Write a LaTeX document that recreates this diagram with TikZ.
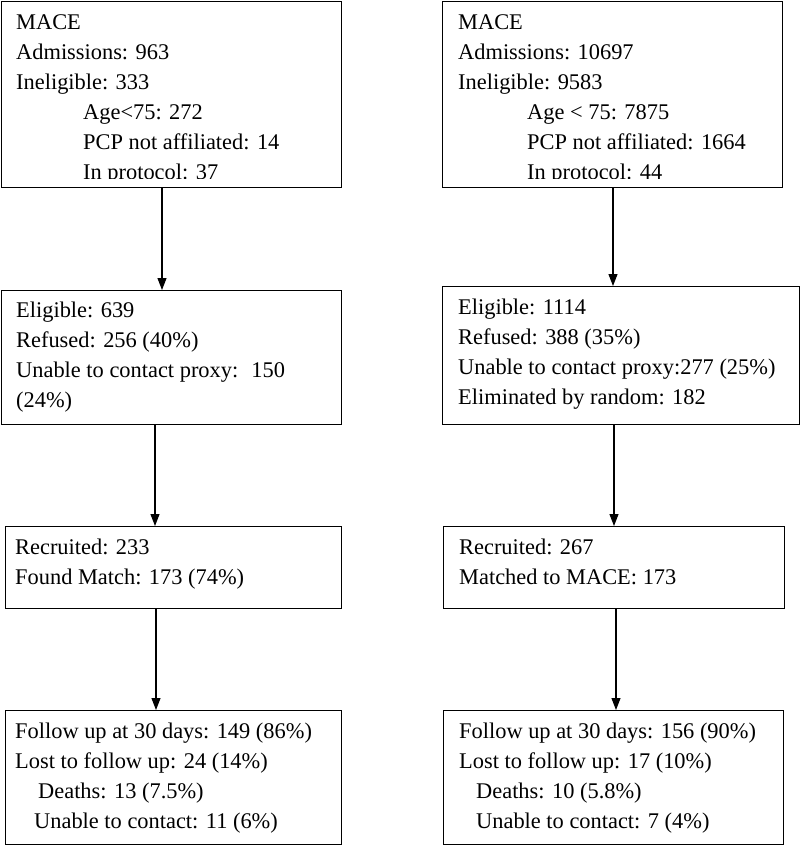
\documentclass[tikz,border=0pt]{standalone}
\usepackage{fontspec}
\setmainfont{Liberation Serif}
\usetikzlibrary{arrows.meta}
\begin{document}
\begin{tikzpicture}[x=1pt,y=-1pt,
  box/.style={draw=black,line width=1.1pt,rectangle,inner sep=0pt,anchor=north west},
  txt/.style={anchor=base west,inner sep=0pt,font=\fontsize{22.4}{30}\selectfont},
  arr/.style={line width=1.1pt,-{Triangle[length=12pt,width=9pt]}}]
\useasboundingbox (0,0) rectangle (800,846);
% boxes
\node[box,minimum width=340pt,minimum height=186pt] (L1) at (1,1) {};
\node[box,minimum width=340pt,minimum height=186pt] (R1) at (442,1) {};
\node[box,minimum width=340pt,minimum height=134pt] (L2) at (1,290) {};
\node[box,minimum width=357pt,minimum height=138pt] (R2) at (442,286) {};
\node[box,minimum width=336pt,minimum height=82pt] (L3) at (5,526) {};
\node[box,minimum width=341pt,minimum height=82pt] (R3) at (443,526) {};
\node[box,minimum width=336pt,minimum height=134pt] (L4) at (5,710) {};
\node[box,minimum width=340pt,minimum height=134pt] (R4) at (443,710) {};
% texts box 1
\begin{scope}
\clip (0,0) rectangle (800,178);
\node[txt] (l1a) at (16,29) {MACE};
\node[txt] (l1b) at (16,59) {Admissions: 963};
\node[txt] (l1c) at (16,89) {Ineligible: 333};
\node[txt] (l1d) at (83,119) {Age<75: 272};
\node[txt] (l1e) at (83,149) {PCP not affiliated: 14};
\node[txt] (l1f) at (83,179) {In protocol: 37};
\node[txt] (r1a) at (458,29) {MACE};
\node[txt] (r1b) at (458,59) {Admissions: 10697};
\node[txt] (r1c) at (458,89) {Ineligible: 9583};
\node[txt] (r1d) at (527,119) {Age < 75: 7875};
\node[txt] (r1e) at (527,149) {PCP not affiliated: 1664};
\node[txt] (r1f) at (527,179) {In protocol: 44};
\end{scope}
% box 2
\node[txt] (l2a) at (16,317) {Eligible: 639};
\node[txt] (l2b) at (16,347) {Refused: 256 (40\%)};
\node[txt] (l2c) at (16,377) {Unable to contact proxy: \ 150};
\node[txt] (l2d) at (16,407) {(24\%)};
\node[txt] (r2a) at (458,314) {Eligible: 1114};
\node[txt] (r2b) at (458,344) {Refused: 388 (35\%)};
\node[txt] (r2c) at (458,374) {Unable to contact proxy:277 (25\%)};
\node[txt] (r2d) at (458,404) {Eliminated by random: 182};
% box 3
\node[txt] (l3a) at (15,554) {Recruited: 233};
\node[txt] (l3b) at (15,584) {Found Match: 173 (74\%)};
\node[txt] (r3a) at (459,554) {Recruited: 267};
\node[txt] (r3b) at (459,584) {Matched to MACE: 173};
% box 4
\node[txt] (l4a) at (15,738) {Follow up at 30 days: 149 (86\%)};
\node[txt] (l4b) at (15,768) {Lost to follow up: 24 (14\%)};
\node[txt] (l4c) at (38,798) {Deaths: 13 (7.5\%)};
\node[txt] (l4d) at (34,828) {Unable to contact: 11 (6\%)};
\node[txt] (r4a) at (459,738) {Follow up at 30 days: 156 (90\%)};
\node[txt] (r4b) at (459,768) {Lost to follow up: 17 (10\%)};
\node[txt] (r4c) at (476,798) {Deaths: 10 (5.8\%)};
\node[txt] (r4d) at (476,828) {Unable to contact: 7 (4\%)};
% arrow columns
\coordinate (ca1) at (162,0);
\coordinate (ca2) at (155,0);
\coordinate (ca3) at (156,0);
\coordinate (cb1) at (613,0);
\coordinate (cb2) at (614,0);
\coordinate (cb3) at (616,0);
\draw[arr] (L1.south -| ca1) -- (L2.north -| ca1);
\draw[arr] (L2.south -| ca2) -- (L3.north -| ca2);
\draw[arr] (L3.south -| ca3) -- (L4.north -| ca3);
\draw[arr] (R1.south -| cb1) -- (R2.north -| cb1);
\draw[arr] (R2.south -| cb2) -- (R3.north -| cb2);
\draw[arr] (R3.south -| cb3) -- (R4.north -| cb3);
\end{tikzpicture}
\end{document}
